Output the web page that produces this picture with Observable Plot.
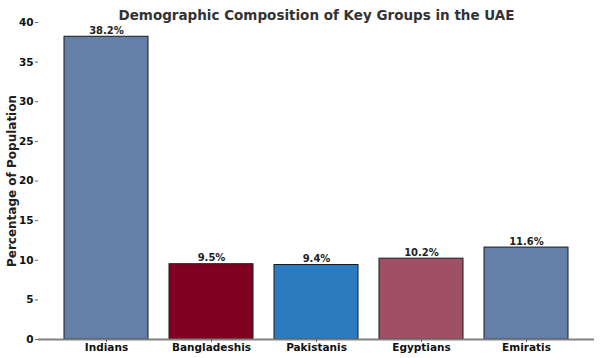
<!DOCTYPE html>
<html><head><meta charset="utf-8">
<script src="https://cdn.jsdelivr.net/npm/d3@7"></script>
<script src="https://cdn.jsdelivr.net/npm/@observablehq/plot@0.6"></script>
<style>body{margin:0;background:#fff;font-family:"DejaVu Sans",sans-serif;}</style>
</head><body><div id="chart"></div>
<script>
const groups = ["Indians","Bangladeshis","Pakistanis","Egyptians","Emiratis"];
const values = [38.2, 9.5, 9.4, 10.2, 11.6];
const colors = ["#6480a9","#800020","#2a7bbf","#a05064","#6480a9"];
const yTicks = [0,5,10,15,20,25,30,35,40];
const data = groups.map((g,i)=>({group:g, value:values[i], color:colors[i]}));

const chart = Plot.plot({
  width: 600, height: 358,
  marginLeft: 38, marginRight: 6, marginTop: 22, marginBottom: 19,
  style: {fontFamily: "DejaVu Sans, sans-serif", background: "#fff"},
  x: {domain: groups, paddingInner: 0.2, paddingOuter: 0.2375, label: null, tickSize: 3},
  y: {domain: [0,40], ticks: yTicks, label: null, tickSize: 3},
  marks: [
    Plot.barY(data, {x:"group", y:"value", fill:"color", stroke:"#1a1a1a", strokeWidth:1}),
    Plot.ruleY([0], {stroke:"#808080", strokeWidth:2}),
    Plot.text(data, {x:"group", y:"value", text: d => d.value.toFixed(1)+"%", dy:-6, fontWeight:"bold", fontSize:10, fill:"#222"}),
    Plot.axisY({ticks: yTicks, tickSize:3, stroke:"#666", fontWeight:"bold", fontSize:10.5, fill:"#111", tickPadding:2, label:null}),
    Plot.axisX({tickSize:3, stroke:"#666", fontWeight:"bold", fontSize:10.5, fill:"#111", tickPadding:1, label:null}),
    Plot.text(["Demographic Composition of Key Groups in the UAE"], {frameAnchor:"top", dy:-12, fontWeight:"bold", fontSize:13.5, fill:"#333"}),
    Plot.text(["Percentage of Population"], {frameAnchor:"left", textAnchor:"middle", dx:-26, rotate:-90, fontWeight:"bold", fontSize:12, fill:"#222"})
  ]
});
document.getElementById("chart").appendChild(chart);
</script></body></html>
